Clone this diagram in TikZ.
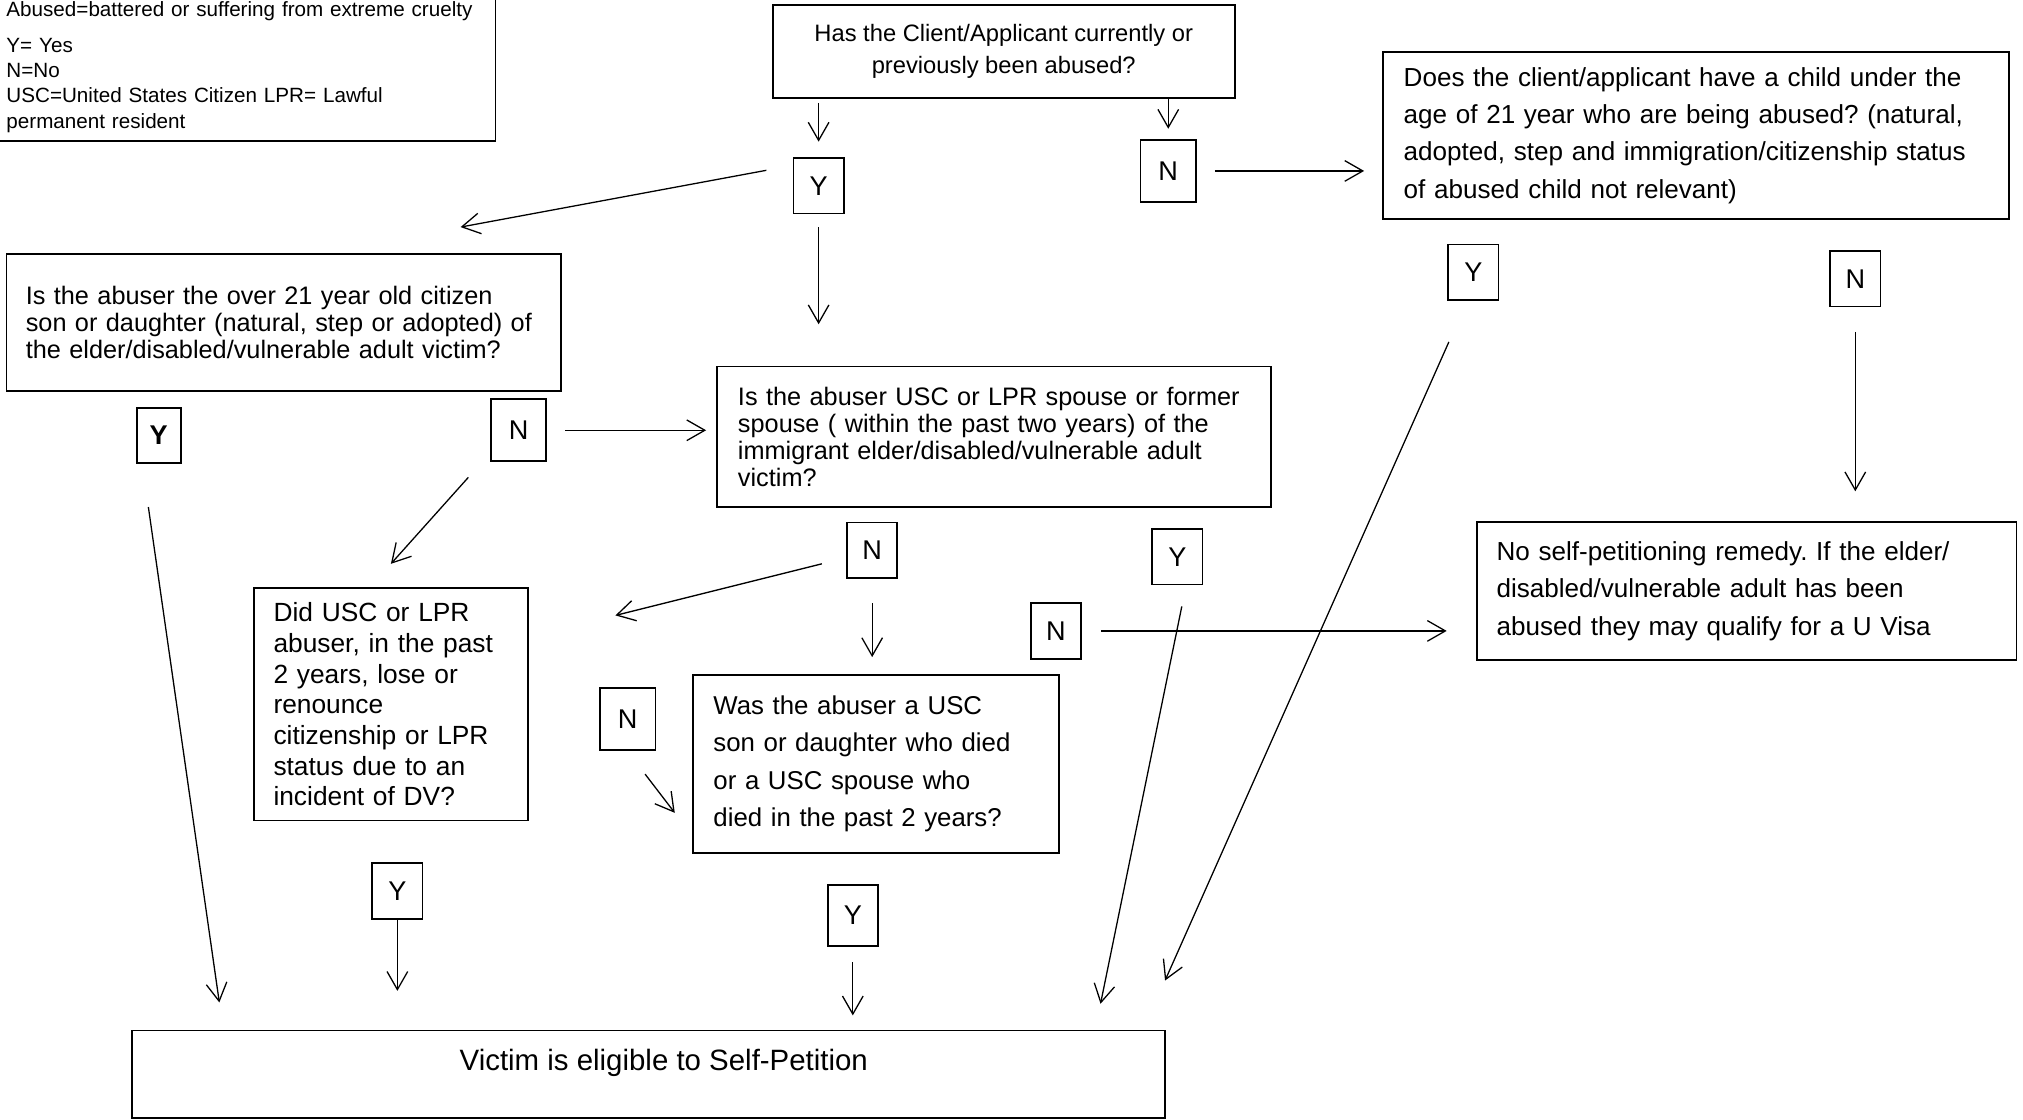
\documentclass[tikz,border=0pt]{standalone}
\usepackage{fontspec}
\setmainfont{Liberation Sans}
\frenchspacing
\usetikzlibrary{arrows.meta}
\tikzset{
  qbox/.style = {draw=black, rectangle, inner sep=0pt, align=left,
    font=\fontsize{10}{14.5}\selectfont},% question box
  yn/.style = {draw=black, rectangle, inner sep=0pt, minimum width=19.5pt,
    minimum height=21.5pt, font=\fontsize{10.5}{12}\selectfont},% Y / N box
  ynl/.style = {yn, minimum width=21.5pt, minimum height=24pt},% larger Y / N box
  arr/.style = {-{Straight Barb[length=7pt,width=8pt]}, line width=0.5pt}
}

\begin{document}
\begin{tikzpicture}[x=0.5pt, y=-0.5pt, line width=0.7pt]
\useasboundingbox (0,0) rectangle (1568,868);
% questions and answers
\node [qbox, minimum width=194.5pt, minimum height=57pt, text width=184.5pt,
  font=\fontsize{8}{9.8}\selectfont] (legend) at (189.5,52)
  {Abused=battered or suffering from extreme cruelty\\[4pt] Y= Yes\\ N=No\\
   USC=United States Citizen LPR= Lawful\\ permanent resident};
\node [qbox, align=center, minimum width=179pt, minimum height=36pt,
  font=\fontsize{9.2}{12.5}\selectfont] (abused) at (778,40)
  {Has the Client/Applicant currently or\\ previously been abused?};
\node [qbox, minimum width=242.5pt, minimum height=65pt, text width=226.5pt,
  font=\fontsize{10.1}{14.5}\selectfont] (child) at (1314.5,105)
  {Does the client/applicant have a child under the\\ age of 21 year who are being abused? (natural,\\
   adopted, step and immigration/citizenship status\\ of abused child not relevant)};
\node [qbox, minimum width=215pt, minimum height=53pt, text width=200pt,
  font=\fontsize{9.8}{10.5}\selectfont] (elder) at (220,250)
  {Is the abuser the over 21 year old citizen\\ son or daughter (natural, step or adopted) of\\
   the elder/disabled/vulnerable adult victim?};
\node [qbox, minimum width=214.5pt, minimum height=54.5pt, text width=198.5pt,
  font=\fontsize{9.8}{10.5}\selectfont] (spouse) at (770.5,338.5)
  {Is the abuser USC or LPR spouse or former\\ spouse ( within the past two years) of the\\
   immigrant elder/disabled/vulnerable adult\\ victim?};
\node [qbox, minimum width=106pt, minimum height=90pt, text width=91pt,
  font=\fontsize{10.2}{11.9}\selectfont] (lost) at (303,546)
  {Did USC or LPR\\ abuser, in the past\\ 2 years, lose or\\ renounce\\ citizenship or LPR\\
   status due to an\\ incident of DV?};
\node [qbox, minimum width=142pt, minimum height=69pt, text width=126pt] (died) at (679,592)
  {Was the abuser a USC\\ son or daughter who died\\ or a USC spouse who\\ died in the past 2 years?};
\node [qbox, minimum width=209pt, minimum height=53.5pt, text width=194pt,
  font=\fontsize{10.1}{14.5}\selectfont] (uvisa) at (1354,458)
  {No self-petitioning remedy. If the elder/\\ disabled/vulnerable adult has been\\
   abused they may qualify for a U Visa};
\node [qbox, align=center, anchor=north, minimum width=400.5pt, text height=15.5pt,
  text depth=18.5pt, font=\fontsize{11.4}{13}\selectfont] (victim) at (502.5,798)
  {\hspace*{12pt}Victim is eligible to Self-Petition};

\node [yn] (ay) at (634.5,144) {Y};
\node [ynl] (an) at (905.5,132.5) {N};
\node [yn] (cy) at (1142,211) {Y};
\node [yn] (cn) at (1438,216) {N};
\node [yn, minimum width=17pt] (ey) at (123,337.5) {\bfseries Y};
\node [ynl] (en) at (402,333.5) {N};
\node [yn] (sn) at (676,426.5) {N};
\node [yn] (sy) at (912.5,431.5) {Y};
\node [yn] (mn) at (818.5,489) {N};
\node [yn] (ly) at (308,690.5) {Y};
\node [ynl] (dn) at (486.5,557.5) {N};
\node [yn, minimum height=23.5pt] (dy) at (661,709.5) {Y};

% loose ends of the slanted arrows
\coordinate (ay1) at (594,132);  \coordinate (ay2) at (357,176);
\coordinate (cy1) at (1123,265); \coordinate (cy2) at (903,760);
\coordinate (en1) at (363,370);  \coordinate (en2) at (303,437);
\coordinate (ey1) at (115,393);  \coordinate (ey2) at (170,777);
\coordinate (sn1) at (637,437);  \coordinate (sn2) at (477,477);
\coordinate (sy1) at (916,470);  \coordinate (sy2) at (853,778);
\coordinate (dn1) at (500,600);  \coordinate (dn2) at (523,630);

% arrows
\draw [arr, shorten <=1.5pt, shorten >=6pt] (ay |- abused.south) -- (ay.north);
\draw [arr, shorten >=4pt] (an |- abused.south) -- (an.north);
\draw [arr, shorten <=7pt, shorten >=7pt] (an.east) -- (an.east -| child.west);
\draw [arr] (ay1) -- (ay2);
\draw [arr, shorten <=5pt, shorten >=16pt] (ay.south) -- (ay.south |- spouse.north);
\draw [arr] (cy1) -- (cy2);
\draw [arr, shorten <=9.5pt, shorten >=11.5pt] (cn.south) -- (cn.south |- uvisa.north);
\draw [arr, shorten <=7pt, shorten >=4pt] (en.east) -- (en.east -| spouse.west);
\draw [arr] (en1) -- (en2);
\draw [arr] (ey1) -- (ey2);
\draw [arr] (sn1) -- (sn2);
\draw [arr, shorten <=9.5pt, shorten >=6.5pt] (sn.south) -- (sn.south |- died.north);
\draw [arr] (sy1) -- (sy2);
\draw [arr, shorten <=7.5pt, shorten >=11.5pt] (mn.east) -- (mn.east -| uvisa.west);
\draw [arr, shorten >=15pt] (ly.south) -- (ly.south |- victim.north);
\draw [arr] (dn1) -- (dn2);
\draw [arr, shorten <=6pt, shorten >=5.5pt] (dy.south) -- (dy.south |- victim.north);
\end{tikzpicture}
\end{document}
